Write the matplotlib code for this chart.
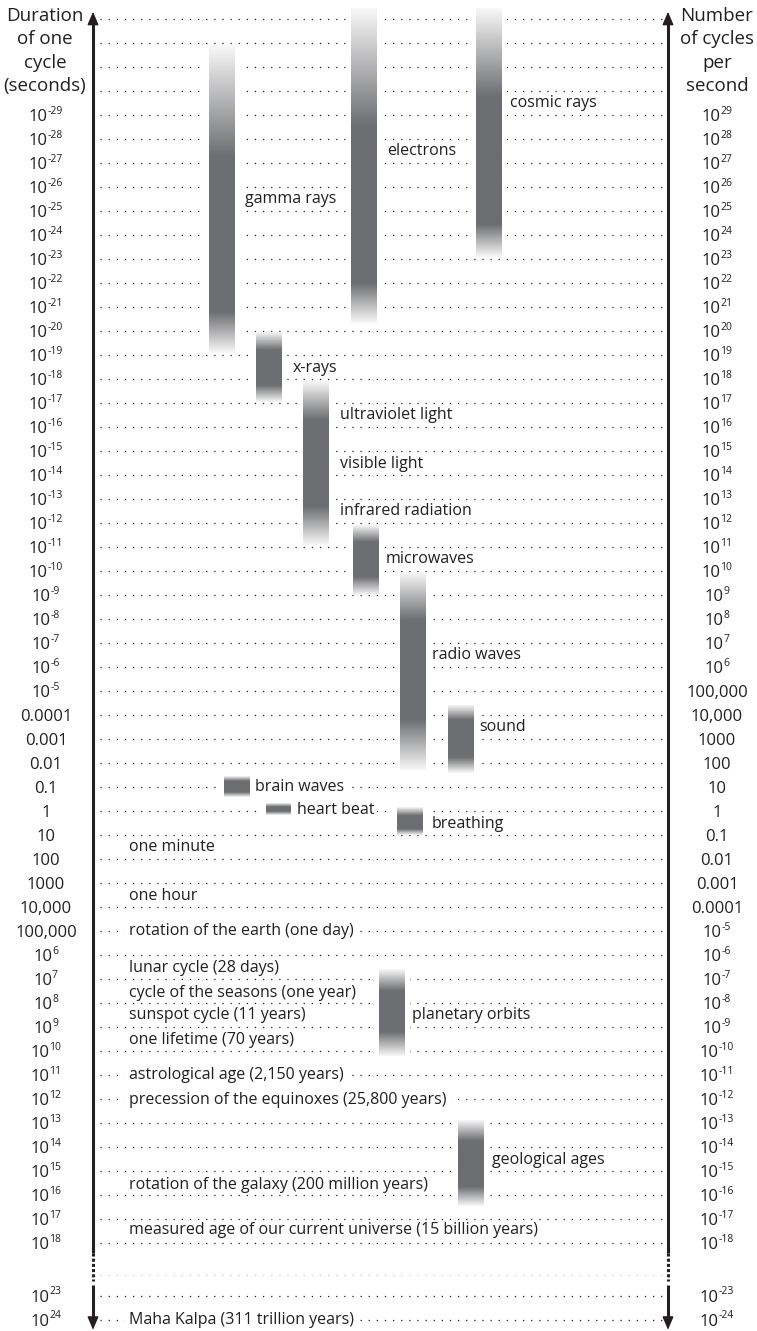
import numpy as np
import matplotlib
matplotlib.use('Agg')
import matplotlib.pyplot as plt
from matplotlib.colors import LinearSegmentedColormap
from matplotlib.patches import Rectangle

plt.rcParams['font.family'] = ['Open Sans', 'DejaVu Sans']

INK = '#231f20'
BAR = '#6d6e71'

# rows are log10 of the duration of one cycle (seconds)
grid_rows = list(range(-33, 19)) + [23, 24]
tick_rows = list(range(-29, 19)) + [23, 24]
# exponents written out in full instead of as powers of ten
plain = {-4: '0.0001', -3: '0.001', -2: '0.01', -1: '0.1', 0: '1',
         1: '10', 2: '100', 3: '1000', 4: '10,000', 5: '100,000'}

# vertical bands: start / end (log10 s) and length of the faded ends
bands = ['gamma rays', 'electrons', 'cosmic rays', 'x-rays', 'uv-visible-ir',
         'microwaves', 'radio waves', 'sound', 'brain waves', 'heart beat',
         'breathing', 'planetary orbits', 'geological ages']
band_top = [-31.9, -33.45, -33.45, -19.95, -17.9, -11.9, -9.95, -4.4,
            -1.45, -0.35, -0.15, 6.6, 12.9]
band_bottom = [-19.1, -20.35, -23.1, -17.05, -11.1, -9.0, -1.7, -1.6,
               -0.6, 0.15, 1.0, 10.2, 16.45]
band_fade_top = [4.65, 4.9, 3.7, 0.75, 1.6, 0.7, 2.0, 0.6, 0.2, 0.15, 0.35, 0.9, 0.85]
band_fade_bottom = [1.7, 1.65, 1.35, 0.7, 1.6, 0.75, 2.1, 0.65, 0.2, 0.15, 0.25, 1.0, 0.8]

band_labels = ['gamma rays', 'electrons', 'cosmic rays', 'x-rays', 'ultraviolet light',
               'visible light', 'infrared radiation', 'microwaves', 'radio waves', 'sound',
               'brain waves', 'heart beat', 'breathing', 'planetary orbits', 'geological ages']
band_label_rows = [-25.5, -27.5, -29.5, -18.45, -16.5, -14.45, -12.5, -10.5, -6.5, -3.5,
                   -1.0, -0.05, 0.55, 8.5, 14.55]

events = ['one minute', 'one hour', 'rotation of the earth (one day)', 'lunar cycle (28 days)',
          'cycle of the seasons (one year)', 'sunspot cycle (11 years)',
          'one lifetime (70 years)', 'astrological age (2,150 years)',
          'precession of the equinoxes (25,800 years)',
          'rotation of the galaxy (200 million years)',
          'measured age of our current universe (15 billion years)',
          'Maha Kalpa (311 trillion years)']
event_rows = [1.5, 3.55, 5, 6.55, 7.6, 8.5, 9.55, 11, 12.05, 15.6, 17.45, 24]

# layout (pixels across the page)
band_x = [222, 364, 489, 269, 316, 365.5, 413, 461, 237, 278.5, 410, 392, 471]
band_w = [26, 26, 26, 26, 26, 26, 26, 26, 26, 25, 26, 26, 26]
label_x = [245, 387, 510, 293, 340, 340, 340, 386, 432, 479, 255, 297, 432, 412, 492]
label_bg = ['brain waves', 'heart beat']
event_bg = ['rotation of the earth (one day)', 'astrological age (2,150 years)',
            'precession of the equinoxes (25,800 years)', 'Maha Kalpa (311 trillion years)']
XL, XR = 93, 668
FS = 11.5


def to_row(e):
    # axis is broken between 10^18 and 10^23
    return e if e <= 18 else e - 2.8


fig = plt.figure(figsize=(7.57, 13.31), dpi=100)
ax = fig.add_axes([0, 0, 1, 1])
ax.axis('off')

# dotted grid
for r in grid_rows:
    ax.plot([100, 664], [to_row(r)] * 2, color=INK, lw=0.9, ls=(0, (1, 5.5)), zorder=1)
ax.plot([100, 664], [19.35] * 2, color='#c8c8c8', lw=0.9, ls=(0, (1, 5.5)), zorder=1)

# bands
cmap = LinearSegmentedColormap.from_list('fade', ['#f8f8f8', BAR])
for top, bot, ft, fb, xc, w in zip(band_top, band_bottom, band_fade_top, band_fade_bottom,
                                   band_x, band_w):
    yy = np.linspace(top, bot, 600)
    v = np.minimum(np.clip((yy - top) / ft, 0, 1), np.clip((bot - yy) / fb, 0, 1))
    ax.add_patch(Rectangle((xc - w / 2 - 5, top), w + 10, bot - top, fc='white', ec='none', zorder=2))
    ax.imshow(v[:, None], cmap=cmap, vmin=0, vmax=1, origin='upper', aspect='auto',
              extent=(xc - w / 2, xc + w / 2, bot, top), interpolation='bilinear', zorder=3)

for txt, r, x in zip(band_labels, band_label_rows, label_x):
    kw = {}
    if txt in label_bg:
        kw['bbox'] = dict(fc='white', ec='none', pad=2)
    ax.text(x, r, txt, fontsize=FS, color=INK, ha='left', va='center', zorder=4, **kw)

for txt, r in zip(events, event_rows):
    kw = {}
    if txt in event_bg:
        kw['bbox'] = dict(fc='white', ec='none', pad=3)
    ax.text(129, to_row(r), txt, fontsize=FS, color=INK, ha='left', va='center', zorder=4, **kw)

# axes with arrows and break
for x in (XL, XR):
    ax.plot([x, x], [-33.0, 18.42], color=INK, lw=2.2, solid_capstyle='butt', zorder=5)
    ax.plot([x, x], [18.42, 19.6], color=INK, lw=2.2, ls=(0, (1.0, 0.7)), zorder=5)
    ax.plot([x, x], [19.75, 21.3], color=INK, lw=2.2, solid_capstyle='butt', zorder=5)
    for tip, tail in ((-33.3, -32.6), (21.62, 20.9)):
        ax.annotate('', xy=(x, tip), xytext=(x, tail), zorder=6,
                    arrowprops=dict(arrowstyle='-|>,head_length=0.4,head_width=0.17',
                                    mutation_scale=20, color=INK, lw=1,
                                    shrinkA=0, shrinkB=0))

# tick labels
fig.canvas.draw()
rend = fig.canvas.get_renderer()


def put_label(xc, r, e):
    y = to_row(r)
    if e in plain:
        ax.text(xc, y, plain[e], fontsize=12, color=INK, ha='center', va='center_baseline')
        return
    t1 = ax.text(0, y, '10', fontsize=12, color=INK, ha='left', va='center_baseline')
    t2 = ax.text(0, y - 0.22, str(e), fontsize=7.5, color=INK, ha='left', va='center_baseline')
    w1 = t1.get_window_extent(rend).width
    w2 = t2.get_window_extent(rend).width
    x0 = xc - (w1 + w2) / 2
    t1.set_x(x0)
    t2.set_x(x0 + w1 - 0.5)


for r in tick_rows:
    put_label(46, r, r)
    put_label(717, r, -r)

ax.text(45, -33.5, 'Duration\nof one\ncycle\n(seconds)', fontsize=13.5, color=INK,
        ha='center', va='top', linespacing=1.38)
ax.text(717, -33.5, 'Number\nof cycles\nper\nsecond', fontsize=13.5, color=INK,
        ha='center', va='top', linespacing=1.38)

ax.set_xlim(0, 757)
ax.set_ylim(21.67, -33.79)
fig.savefig('out.png', dpi=100, facecolor='white')
